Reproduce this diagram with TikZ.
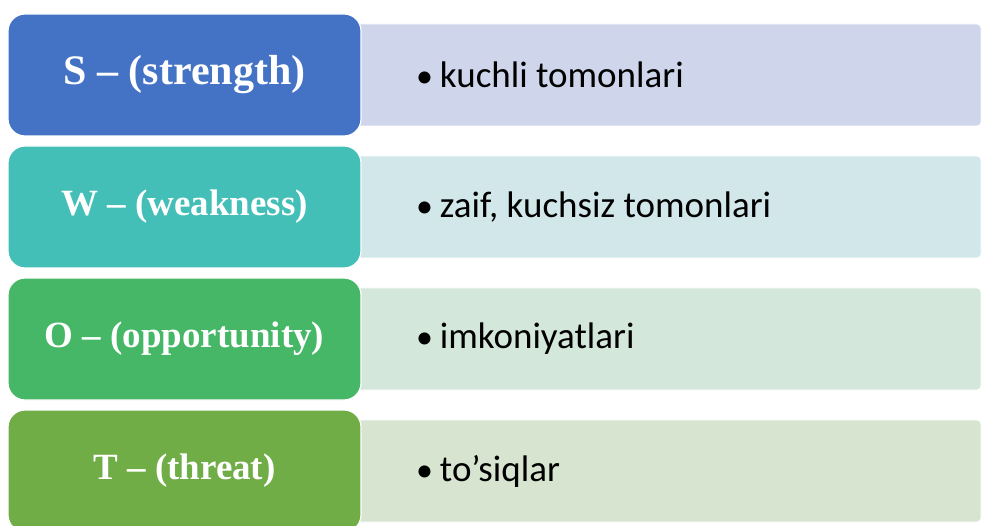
\documentclass[tikz,border=0pt]{standalone}
\usepackage{fontspec}
\usepackage{xcolor}
\usepackage{tikz}
\usetikzlibrary{positioning, calc}
\newfontfamily\headfont[Ligatures=TeX]{Liberation Serif}
\newfontfamily\itemfont{Carlito}

\definecolor{sBlue}{HTML}{4472C4}
\definecolor{sBlueL}{HTML}{CFD5EA}
\definecolor{wTeal}{HTML}{43BFB8}
\definecolor{wTealL}{HTML}{D1E7E9}
\definecolor{oGreen}{HTML}{46B766}
\definecolor{oGreenL}{HTML}{D3E7DA}
\definecolor{tGreen}{HTML}{70AD47}
\definecolor{tGreenL}{HTML}{D6E4D0}

\newcommand{\dotitem}{\hspace*{76pt}{\fontsize{34}{34}\selectfont •}\hspace{7pt}}

\begin{document}
\begin{tikzpicture}[
    x=1pt, y=1pt,
    letter/.style={draw=white, line width=1.2pt, rounded corners=17pt, minimum width=353pt, minimum height=122pt, inner sep=0pt, text=white, font=\headfont\bfseries\fontsize{37}{40}\selectfont},
    meaning/.style={draw=white, line width=0.8pt, rounded corners=4pt, minimum width=641pt, minimum height=102pt, inner sep=0pt, text width=641pt, align=flush left, font=\itemfont\fontsize{37}{40}\selectfont}
]
    \useasboundingbox (0,0) rectangle (982,525);
    % right-hand boxes first, so the coloured ones sit on top
    \node[meaning, fill=sBlueL] (sText) at (660.5,450) {\dotitem kuchli tomonlari};
    \node[meaning, fill=wTealL] (wText) at (660.5,318) {\dotitem zaif, kuchsiz tomonlari};
    \node[meaning, fill=oGreenL] (oText) at (660.5,186) {\dotitem imkoniyatlari};
    \node[meaning, fill=tGreenL] (tText) at (660.5,54) {\dotitem to’siqlar};
    % SWOT letters
    \node[letter, fill=sBlue, font=\headfont\bfseries\fontsize{42}{46}\selectfont] (sBox) at (184.5,450) {S – (strength)};
    \node[letter, fill=wTeal] (wBox) at (184.5,318) {W – (weakness)};
    \node[letter, fill=oGreen] (oBox) at (184.5,186) {O – (opportunity)};
    \node[letter, fill=tGreen] (tBox) at (184.5,54) {T – (threat)};
\end{tikzpicture}
\end{document}
